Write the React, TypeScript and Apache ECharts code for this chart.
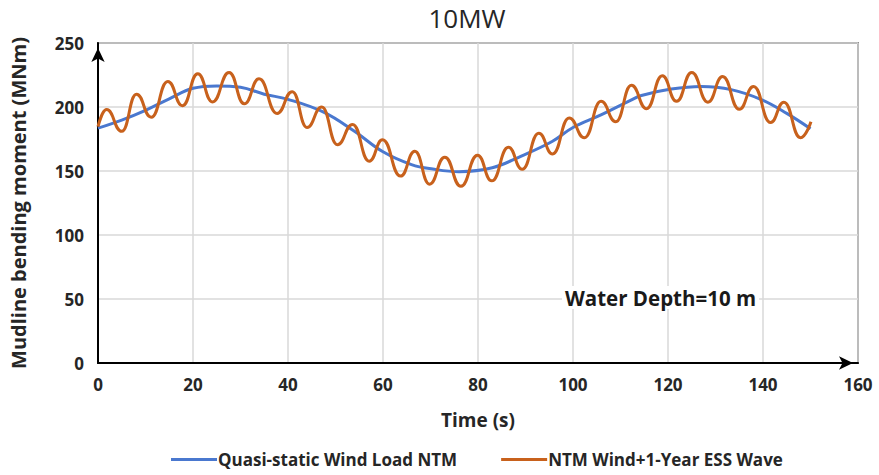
import React, { useEffect, useRef } from "react";
import * as echarts from "echarts";

const titleText = "10MW";
const xTicks = { min: 0, max: 160, interval: 20 };
const yTicks = { min: 0, max: 250, interval: 50 };

const quasiTime = [0, 5, 10, 15, 20, 25, 30, 35, 40, 47.5, 54, 60, 66, 70.5, 76, 83, 89, 95.6, 100, 106, 112, 114.4, 120.7, 127, 133.3, 139.5, 145, 150];
const quasiValues = [183.5, 189.8, 197.4, 206.4, 214.6, 216.5, 215.4, 210, 206, 196, 181, 165, 155, 151.5, 149.5, 152.5, 161.5, 173, 184, 194, 205, 209, 214, 216, 213.6, 206, 195, 183];

const essTime = [0, 1.8, 5.0, 8.1, 11.2, 14.7, 17.8, 21.0, 24.1, 27.6, 30.8, 33.9, 37.7, 40.9, 44.0, 47.1, 50.4, 53.6, 57.1, 59.9, 63.7, 66.7, 69.8, 73.0, 76.4, 79.9, 82.9, 86.4, 89.3, 92.8, 95.7, 99.2, 102.4, 105.9, 109.0, 112.3, 115.5, 118.8, 121.8, 125.0, 128.4, 131.5, 135.0, 138.0, 141.6, 144.4, 147.9, 150.1];
const essValues = [184.6, 198, 181, 210, 192, 220, 201, 226, 204, 227, 202.5, 222, 195, 212, 184, 200, 170.5, 186.4, 157.7, 174.4, 146, 165.4, 139.7, 160.8, 138, 162.3, 142.3, 168.5, 151.3, 179.5, 163.3, 191.5, 176, 204.4, 188.5, 217, 198.7, 224.4, 204.4, 227, 203.8, 223.8, 198.2, 216, 187.9, 203.8, 176, 188.5];

const seriesNames = ["Quasi-static Wind Load NTM", "NTM Wind+1-Year ESS Wave"];
const axisNames = { x: "Time (s)", y: "Mudline bending moment (MNm)" };
const annotation = "Water Depth=10 m";

const FONT = "'Open Sans', 'Noto Sans', sans-serif";

export default function App() {
  const ref = useRef<HTMLDivElement>(null);
  useEffect(() => {
    if (!ref.current) return;
    const chart = echarts.init(ref.current, null, { renderer: "svg" });
    const quasi = quasiTime.map((t, i) => [t, quasiValues[i]]);
    const ess = essTime.map((t, i) => [t, essValues[i]]);
    chart.setOption({
      animation: false,
      backgroundColor: "#ffffff",
      textStyle: { fontFamily: FONT },
      title: {
        text: titleText,
        left: 462,
        textAlign: "center",
        top: 0,
        textStyle: { fontFamily: FONT, fontSize: 26, fontWeight: "normal", color: "#262626" },
      },
      grid: {
        left: 93,
        right: 21,
        top: 43,
        bottom: 112,
        show: true,
        borderColor: "#3a3a3a",
        borderWidth: 1.5,
        backgroundColor: "transparent",
      },
      legend: {
        left: 166,
        bottom: 2,
        itemWidth: 46,
        itemHeight: 3,
        itemGap: 44,
        icon: "rect",
        textStyle: { fontFamily: FONT, fontSize: 17, fontWeight: "bold", color: "#262626", padding: [0, 0, 0, -4] },
        data: seriesNames,
      },
      xAxis: {
        type: "value",
        min: xTicks.min,
        max: xTicks.max,
        interval: xTicks.interval,
        name: axisNames.x,
        nameLocation: "middle",
        nameGap: 47,
        nameTextStyle: { fontFamily: FONT, fontSize: 19, fontWeight: "bold", color: "#262626" },
        axisLine: {
          lineStyle: { color: "#000", width: 2 },
          symbol: ["none", "arrow"],
          symbolSize: [10, 14],
          symbolOffset: [0, -5],
        },
        axisTick: { show: false },
        axisLabel: { fontFamily: FONT, fontSize: 17, fontWeight: "bold", color: "#262626", margin: 13 },
        splitLine: { show: true, lineStyle: { color: "#d9d9d9", width: 1.5 } },
      },
      yAxis: {
        type: "value",
        min: yTicks.min,
        max: yTicks.max,
        interval: yTicks.interval,
        name: axisNames.y,
        nameLocation: "middle",
        nameGap: 70,
        nameTextStyle: { fontFamily: FONT, fontSize: 20, fontWeight: "bold", color: "#262626" },
        axisLine: {
          show: true,
          lineStyle: { color: "#000", width: 2 },
          symbol: ["none", "arrow"],
          symbolSize: [10, 14],
          symbolOffset: [0, -5],
        },
        axisTick: { show: false },
        axisLabel: { fontFamily: FONT, fontSize: 17, fontWeight: "bold", color: "#262626", margin: 14 },
        splitLine: { show: true, lineStyle: { color: "#d9d9d9", width: 1.5 } },
      },
      graphic: [
        {
          type: "text",
          left: 562,
          top: 286,
          z: 10,
          style: {
            text: annotation,
            font: `bold 20.5px ${FONT}`,
            fill: "#1a1a1a",
            backgroundColor: "#ffffff",
            padding: [1, 3, 1, 3],
          },
        },
      ],
      series: [
        {
          name: seriesNames[0],
          type: "line",
          data: quasi,
          smooth: 0.4,
          symbol: "none",
          color: "#4a78cf",
          lineStyle: { width: 3, color: "#4a78cf" },
          z: 2,
        },
        {
          name: seriesNames[1],
          type: "line",
          data: ess,
          smooth: 0.5,
          smoothMonotone: "x",
          symbol: "none",
          color: "#c8611c",
          lineStyle: { width: 3, color: "#c8611c" },
          z: 3,
        },
      ],
    });
    return () => chart.dispose();
  }, []);
  return <div ref={ref} style={{ position: "fixed", left: 0, top: 0, width: 879, height: 475 }} />;
}
